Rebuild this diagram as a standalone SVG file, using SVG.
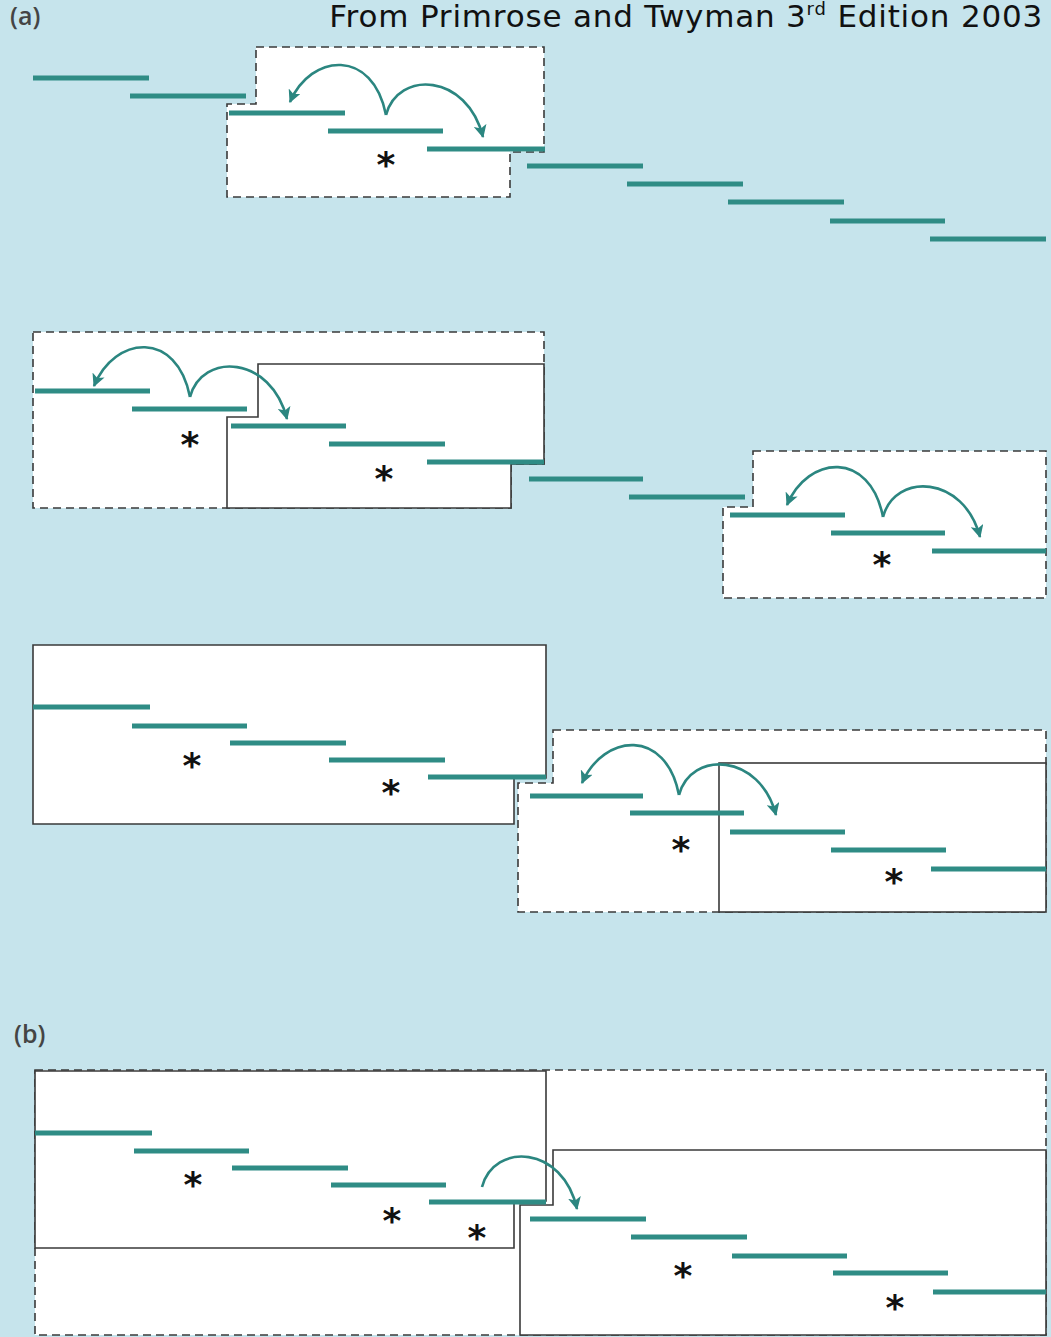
<svg xmlns="http://www.w3.org/2000/svg" width="1051" height="1337" viewBox="0 0 1051 1337">
<defs>
<marker id="ah" viewBox="0 0 12 12" refX="11" refY="6" markerWidth="13" markerHeight="13" markerUnits="userSpaceOnUse" orient="auto">
<path d="M0,0 L12,6 L0,12 L3,6 z" fill="#2b8680"/>
</marker>
<style>
.bg{fill:#c6e4ec}
.dash{fill:#ffffff;stroke:#3a3a3a;stroke-width:1.6;stroke-dasharray:8 5}
.solid{fill:#ffffff;stroke:#3a3a3a;stroke-width:1.6}
.bar{stroke:#2f8c85;stroke-width:5;fill:none}
.arc{fill:none;stroke:#2b8680;stroke-width:2.6;marker-end:url(#ah)}
.ast{font-family:"DejaVu Sans",sans-serif;font-weight:bold;font-size:36px;fill:#111;text-anchor:middle}
.lab{font-family:"Open Sans","DejaVu Sans",sans-serif;font-size:25px;font-weight:600;fill:#444}
.title{font-family:"DejaVu Sans",sans-serif;font-size:31px;fill:#111;letter-spacing:0.8px}
</style>
</defs>
<rect class="bg" x="0" y="0" width="1051" height="1337"/>
<text class="title" x="1043" y="27" text-anchor="end">From Primrose and Twyman 3<tspan font-size="18" dy="-12">rd</tspan><tspan dy="12"> Edition 2003</tspan></text>
<text class="lab" x="10" y="25">(a)</text>
<text class="lab" x="14" y="1043">(b)</text>

<!-- Row 1 -->
<g id="box-a1">
<polygon class="dash" points="256,47 544,47 544,152 510,152 510,197 227,197 227,104 256,104"/>
</g>
<g id="bars-a1">
<line class="bar" x1="33" y1="78" x2="149" y2="78"/>
<line class="bar" x1="130" y1="96" x2="246" y2="96"/>
<line class="bar" x1="229" y1="113" x2="345" y2="113"/>
<line class="bar" x1="328" y1="131" x2="443" y2="131"/>
<line class="bar" x1="427" y1="149" x2="545" y2="149"/>
<line class="bar" x1="527" y1="166" x2="643" y2="166"/>
<line class="bar" x1="627" y1="184" x2="743" y2="184"/>
<line class="bar" x1="728" y1="202" x2="844" y2="202"/>
<line class="bar" x1="830" y1="221" x2="945" y2="221"/>
<line class="bar" x1="930" y1="239" x2="1046" y2="239"/>
</g>
<text class="ast" x="386" y="177">*</text>

<!-- Row 2 -->
<g id="box-a2-dash">
<polygon class="dash" points="33,332 544,332 544,464 511,464 511,508 33,508"/>
</g>
<g id="box-a2-solid">
<polygon class="solid" points="258,364 544,364 544,464 511,464 511,508 227,508 227,417 258,417"/>
</g>
<g id="box-a2-right">
<polygon class="dash" points="753,451 1046,451 1046,598 723,598 723,507 753,507"/>
</g>
<g id="bars-a2">
<line class="bar" x1="35" y1="391" x2="150" y2="391"/>
<line class="bar" x1="132" y1="409" x2="247" y2="409"/>
<line class="bar" x1="231" y1="426" x2="346" y2="426"/>
<line class="bar" x1="329" y1="444" x2="445" y2="444"/>
<line class="bar" x1="427" y1="462" x2="544" y2="462"/>
<line class="bar" x1="529" y1="479" x2="643" y2="479"/>
<line class="bar" x1="629" y1="497" x2="745" y2="497"/>
<line class="bar" x1="730" y1="515" x2="845" y2="515"/>
<line class="bar" x1="831" y1="533" x2="945" y2="533"/>
<line class="bar" x1="932" y1="551" x2="1046" y2="551"/>
</g>
<text class="ast" x="190" y="457">*</text>
<text class="ast" x="384" y="491">*</text>
<text class="ast" x="882" y="577">*</text>

<!-- Row 3 -->
<g id="box-a3-left">
<polygon class="solid" points="33,645 546,645 546,778 514,778 514,824 33,824"/>
</g>
<g id="box-a3-dash">
<polygon class="dash" points="553,730 1046,730 1046,912 518,912 518,783 553,783"/>
</g>
<g id="box-a3-solid">
<rect class="solid" x="719" y="763" width="327" height="149"/>
</g>
<g id="bars-a3">
<line class="bar" x1="33" y1="707" x2="150" y2="707"/>
<line class="bar" x1="132" y1="726" x2="247" y2="726"/>
<line class="bar" x1="230" y1="743" x2="346" y2="743"/>
<line class="bar" x1="329" y1="760" x2="445" y2="760"/>
<line class="bar" x1="428" y1="777" x2="546" y2="777"/>
<line class="bar" x1="530" y1="796" x2="643" y2="796"/>
<line class="bar" x1="630" y1="813" x2="744" y2="813"/>
<line class="bar" x1="730" y1="832" x2="845" y2="832"/>
<line class="bar" x1="831" y1="850" x2="946" y2="850"/>
<line class="bar" x1="931" y1="869" x2="1046" y2="869"/>
</g>
<text class="ast" x="192" y="778">*</text>
<text class="ast" x="391" y="805">*</text>
<text class="ast" x="681" y="862">*</text>
<text class="ast" x="894" y="894">*</text>

<!-- Panel b -->
<g id="box-b-dash">
<rect class="dash" x="35" y="1070" width="1011" height="265"/>
</g>
<g id="box-b-left">
<polygon class="solid" points="35,1071 546,1071 546,1201 514,1201 514,1248 35,1248"/>
</g>
<g id="box-b-right">
<polygon class="solid" points="553,1150 1046,1150 1046,1335 520,1335 520,1205 553,1205"/>
</g>
<g id="bars-b">
<line class="bar" x1="35" y1="1133" x2="152" y2="1133"/>
<line class="bar" x1="134" y1="1151" x2="249" y2="1151"/>
<line class="bar" x1="232" y1="1168" x2="348" y2="1168"/>
<line class="bar" x1="331" y1="1185" x2="446" y2="1185"/>
<line class="bar" x1="429" y1="1202" x2="546" y2="1202"/>
<line class="bar" x1="530" y1="1219" x2="646" y2="1219"/>
<line class="bar" x1="631" y1="1237" x2="747" y2="1237"/>
<line class="bar" x1="732" y1="1256" x2="847" y2="1256"/>
<line class="bar" x1="833" y1="1273" x2="948" y2="1273"/>
<line class="bar" x1="933" y1="1292" x2="1046" y2="1292"/>
</g>
<text class="ast" x="193" y="1197">*</text>
<text class="ast" x="392" y="1233">*</text>
<text class="ast" x="477" y="1250">*</text>
<text class="ast" x="683" y="1288">*</text>
<text class="ast" x="895" y="1320">*</text>

<g id="connectors">
<g transform="translate(386,115)">
<path class="arc" d="M0,0 C-13,-67 -75,-62 -96,-13"/>
<path class="arc" d="M0,0 C12,-45 81,-42 97,22"/>
</g>
<g transform="translate(190,397)">
<path class="arc" d="M0,0 C-13,-67 -75,-62 -96,-11"/>
<path class="arc" d="M0,0 C12,-45 81,-42 97,22"/>
</g>
<g transform="translate(883,517)">
<path class="arc" d="M0,0 C-13,-67 -75,-62 -96,-12"/>
<path class="arc" d="M0,0 C12,-45 81,-42 97,20"/>
</g>
<g transform="translate(679,795)">
<path class="arc" d="M0,0 C-13,-67 -75,-62 -97,-12"/>
<path class="arc" d="M0,0 C12,-45 81,-42 97,20"/>
</g>
<g transform="translate(482,1187)">
<path class="arc" d="M0,0 C12,-45 81,-42 95,22"/>
</g>
</g>
</svg>
